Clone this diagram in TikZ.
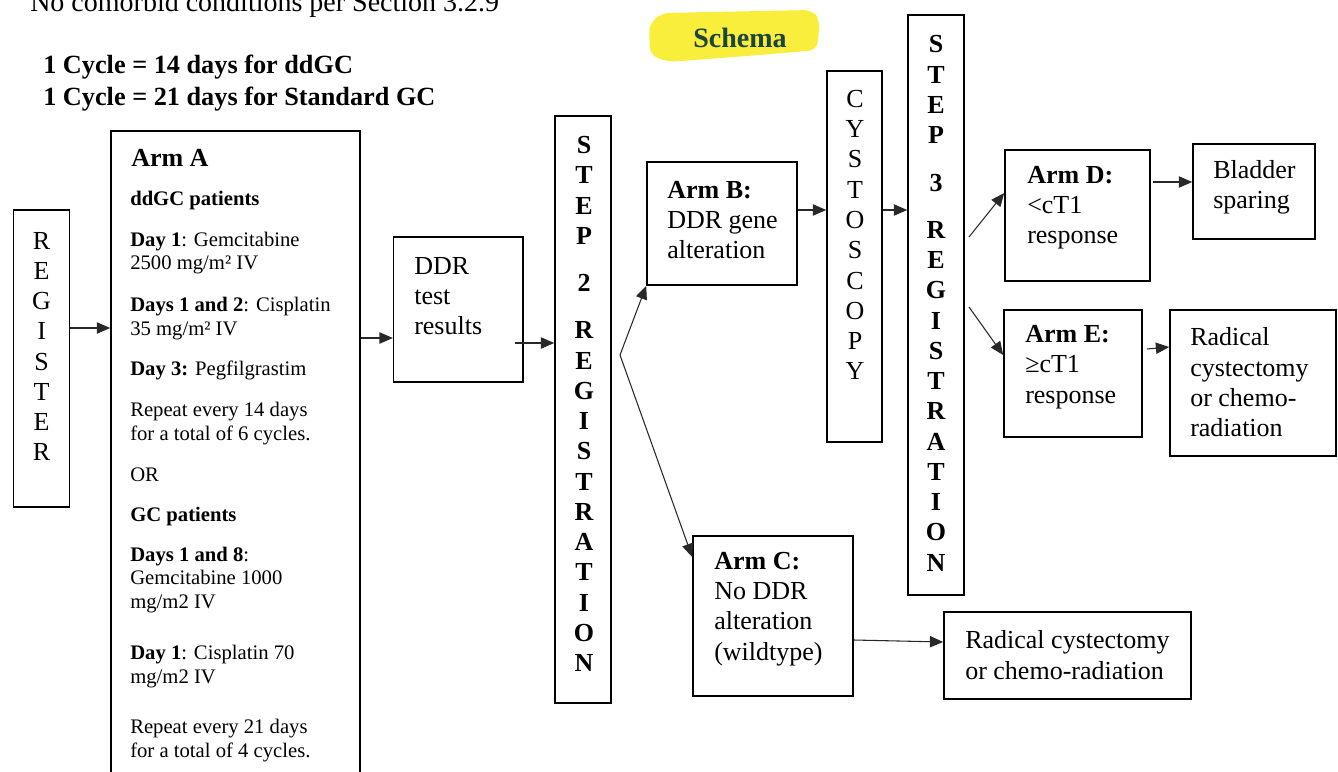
\documentclass[tikz,border=0pt]{standalone}
\usepackage{fontspec}
\setmainfont{Liberation Serif}
\usetikzlibrary{arrows.meta,fit}
\definecolor{schemaink}{RGB}{28,68,64}
\definecolor{marker}{RGB}{250,238,60}
\tikzset{
  box/.style={draw, line width=1.2pt, inner sep=0pt},
  arr/.style={line width=0.8pt, draw={rgb,255:red,40;green,40;blue,40}, -{Triangle[length=10pt,width=8.5pt]}},
  bigtxt/.style={font=\fontsize{19.5}{22.7}\selectfont, align=left, inner sep=0pt, anchor=west},
  smalltxt/.style={font=\fontsize{15.5}{17.6}\selectfont, align=left, inner sep=0pt, anchor=west},
  column/.style={font=\fontsize{19.5}{22.7}\selectfont, align=center, inner sep=0pt},
  boldcolumn/.style={column, font=\bfseries\fontsize{19.5}{22.7}\selectfont},
}
\begin{document}
\begin{tikzpicture}[x=0.75pt,y=0.75pt,yscale=-1,xscale=1]
\useasboundingbox (0,0) rectangle (1338,771);
\clip (0,0) rectangle (1338,771);
% Text Node
\node (note) [anchor=base west, inner sep=0pt, font=\fontsize{21}{24}\selectfont] at (30,12) {No comorbid conditions per Section 3.2.9};
% Text Node
\node (cyc1) [anchor=base west, inner sep=0pt, font=\bfseries\fontsize{19.7}{22}\selectfont] at (43,73) {1 Cycle = 14 days for ddGC};
% Text Node
\node (cyc2) [anchor=base west, inner sep=0pt, font=\bfseries\fontsize{19.7}{22}\selectfont] at (43,105) {1 Cycle = 21 days for Standard GC};
%Shape: Highlight
\fill [marker, rounded corners=6] (649,24) -- (662,13) -- (812,10) -- (820,20) -- (817,50) -- (760,55) -- (668,62) -- (650,55) -- cycle ;
% Text Node
\node (schema) [anchor=base, inner sep=0pt, text=schemaink, font=\bfseries\fontsize{21}{24}\selectfont] at (740,47) {Schema};

%Shape: Rectangle
\node (reg) [box, fit={(13.6,210) (69.6,507)}] {};
\node (reg-t) [column] at (41.6,346.5) {R\\E\\G\\I\\S\\T\\E\\R};
%Shape: Rectangle
\node (armA) [box, fit={(111,131) (360,800)}] {};
% Text Node
\node (armA-h) [bigtxt, font=\bfseries\fontsize{19.5}{22.7}\selectfont] at (131,158) {Arm A};
\node (armA-p1) [smalltxt] at (130,201) {\textbf{ddGC patients}};
\node (armA-p2) [smalltxt] at (130,253) {\textbf{Day 1}: Gemcitabine\\2500 mg/m² IV};
\node (armA-p3) [smalltxt] at (130,318.5) {\textbf{Days 1 and 2}: Cisplatin\\35 mg/m² IV};
\node (armA-p4) [smalltxt] at (130,370) {\textbf{Day 3:} Pegfilgrastim};
\node (armA-p5) [smalltxt] at (130,423.5) {Repeat every 14 days\\for a total of 6 cycles.};
\node (armA-p6) [smalltxt] at (130,475) {OR};
\node (armA-p7) [smalltxt] at (130,517) {\textbf{GC patients}};
\node (armA-p8) [smalltxt] at (130,580) {\textbf{Days 1 and 8}:\\Gemcitabine 1000\\mg/m2 IV};
\node (armA-p9) [smalltxt] at (130,666.5) {\textbf{Day 1}: Cisplatin 70\\mg/m2 IV};
\node (armA-p10) [smalltxt] at (130,740.5) {Repeat every 21 days\\for a total of 4 cycles.};
%Shape: Rectangle
\node (ddr) [box, fit={(393.6,237) (523,382)}] {};
\node (ddr-t) [bigtxt] at (414,296) {DDR\\test\\results};
%Shape: Rectangle
\node (step2) [box, fit={(555,116) (611,703)}] {};
\node (step2-t) [boldcolumn] at (584,404) {S\\T\\E\\P\\[12.75pt]2\\[12.75pt]R\\E\\G\\I\\S\\T\\R\\A\\T\\I\\O\\N};
%Shape: Rectangle
\node (armB) [box, fit={(647,162) (797,285)}] {};
\node (armB-t) [bigtxt] at (667,220) {\textbf{Arm B:}\\DDR gene\\alteration};
%Shape: Rectangle
\node (armC) [box, fit={(693,536) (853,696)}] {};
\node (armC-t) [bigtxt] at (714,609) {\textbf{Arm C:}\\No DDR\\alteration\\(wildtype)};
%Shape: Rectangle
\node (cysto) [box, fit={(827,71) (882,442)}] {};
\node (cysto-t) [column] at (855,235) {C\\Y\\S\\T\\O\\S\\C\\O\\P\\Y};
%Shape: Rectangle
\node (step3) [box, fit={(908,15) (964,595)}] {};
\node (step3-t) [boldcolumn] at (936,303.5) {S\\T\\E\\P\\[12.75pt]3\\[12.75pt]R\\E\\G\\I\\S\\T\\R\\A\\T\\I\\O\\N};
%Shape: Rectangle
\node (armD) [box, fit={(1005,150) (1150,281)}] {};
\node (armD-t) [bigtxt] at (1027,207.5) {\textbf{Arm D:}\\<cT1\\response};
%Shape: Rectangle
\node (armE) [box, fit={(1004,310) (1142,437)}] {};
\node (armE-t) [bigtxt] at (1025,367) {\textbf{Arm E:}\\≥cT1\\response};
%Shape: Rectangle
\node (bladder) [box, fit={(1193,144) (1315,239)}] {};
\node (bladder-t) [bigtxt] at (1213,187) {Bladder\\sparing};
%Shape: Rectangle
\node (radE) [box, fit={(1170,310) (1336,456)}] {};
\node (radE-t) [bigtxt] at (1190,382.5) {Radical\\cystectomy\\or chemo-\\radiation};
%Shape: Rectangle
\node (radC) [box, fit={(944,612) (1191,699)}] {};
\node (radC-t) [bigtxt] at (965,655) {Radical cystectomy\\or chemo-radiation};

%Straight Lines
\draw [arr] (reg.east |- 0,328) -- (armA.west |- 0,328) ;
\draw [arr] (armA.east |- 0,338) -- (ddr.west |- 0,338) ;
\coordinate (ddrout) at (515,343) ;
\draw [arr] (ddrout) -- (step2.west |- ddrout) ;
\coordinate (fork2) at (620,355) ;
\draw [arr] (fork2) -- (armB.south west) ;
\draw [arr] (fork2) -- (armC.west |- 0,557) ;
\draw [arr] (armB.east |- 0,210) -- (cysto.west |- 0,210) ;
\draw [arr] (cysto.east |- 0,210) -- (step3.west |- 0,210) ;
\coordinate (fork3a) at (969,237) ;
\draw [arr] (fork3a) -- (armD.west |- 0,193) ;
\coordinate (fork3b) at (969,307) ;
\draw [arr] (fork3b) -- (armE.west |- 0,355) ;
\coordinate (armDout) at (1153,182) ;
\draw [arr] (armDout) -- (bladder.west |- armDout) ;
\coordinate (armEout) at (1147,349) ;
\draw [arr] (armEout) -- (radE.west |- 0,347) ;
\draw [arr] (armC.east |- 0,640) -- (radC.west |- 0,642) ;
\end{tikzpicture}
\end{document}
